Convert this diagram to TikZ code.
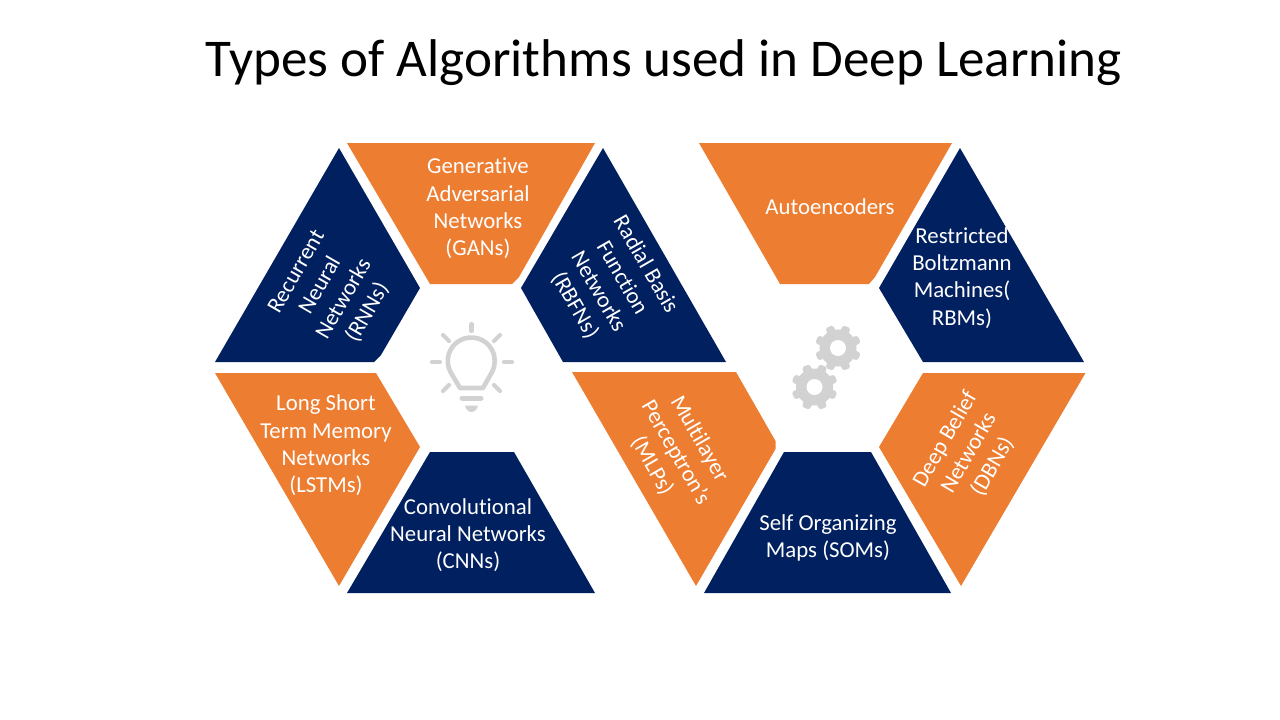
\documentclass[tikz,border=0pt]{standalone}
\usepackage{fontspec}
\setmainfont{Carlito}[RawFeature={-liga;-clig}]
\definecolor{navyc}{HTML}{002060}
\definecolor{orangec}{HTML}{ED7D31}
\definecolor{iconc}{HTML}{D2D2D2}
\tikzset{
  navyshape/.style={fill=navyc,draw=none},
  orangeshape/.style={fill=orangec,draw=none},
  lab/.style={text=white,align=center,inner sep=0pt,font=\fontsize{22.8}{27.3}\selectfont},
  ray/.style={draw=iconc,line width=4.2pt,line cap=round},
  titletext/.style={text=black,inner sep=0pt,font=\fontsize{53.1}{60}\selectfont}
}
\newcommand{\gearicon}[2]{%
  \fill[iconc] (#1,#2) circle[radius=18.5pt];
  \foreach \a in {0,45,...,315}{
    \fill[iconc,rounded corners=1.5pt,shift={(#1,#2)},rotate=\a+22.5]
      (-5,14) -- (-3.8,23) -- (3.8,23) -- (5,14) -- cycle;
  }
  \fill[white] (#1,#2) circle[radius=8pt];
}
\begin{document}
\begin{tikzpicture}[x=1pt,y=-1pt]
\useasboundingbox (0,0) rectangle (1280,720);
\fill[white] (0,0) rectangle (1280,720);
\node[titletext] (title) at (664,62.5) {Types of Algorithms used in Deep Learning};
% left hexagon
\fill[orangeshape] (347,143) -- (595,143) -- (519,277) -- (512,284) -- (430,284) -- cycle;
\fill[navyshape] (339,148) -- (420,288) -- (381,355) -- (374,362) -- (215,362) -- cycle;
\fill[navyshape] (603,148) -- (726,362) -- (563,362) -- (521,288) -- cycle;
\fill[orangeshape] (215,373) -- (376,373) -- (420,447) -- (339,586) -- cycle;
\fill[navyshape] (430,452) -- (514,452) -- (595,593) -- (347,593) -- cycle;
\fill[orangeshape] (572,372) -- (736,372) -- (775.5,441) -- (775.5,449) -- (696,586) -- cycle;
% right hexagon
\fill[orangeshape] (699,143) -- (952,143) -- (875,277) -- (869,284) -- (780,284) -- cycle;
\fill[navyshape] (960,148) -- (1084,362) -- (923,362) -- (879,288) -- cycle;
\fill[orangeshape] (923,373) -- (1085.5,373) -- (961,586) -- (879,447) -- cycle;
\fill[navyshape] (784,452) -- (871,452) -- (951,593) -- (704,593) -- cycle;
% labels
\node[lab] (gan) at (478,208.5) {Generative\\Adversarial\\Networks\\(GANs)};
\node[lab,rotate=60] (rnn) at (332.5,292.5) {Recurrent\\Neural\\Networks\\(RNNs)};
\node[lab,rotate=-60] (rbfn) at (610,285) {Radial Basis\\Function\\Networks\\(RBFNs)};
\node[lab] (lstm) at (326,445.5) {Long Short\\Term Memory\\Networks\\(LSTMs)};
\node[lab] (cnn) at (468,535) {Convolutional\\Neural Networks\\(CNNs)};
\node[lab,rotate=-60] (mlp) at (675.5,452.5) {Multilayer\\Perceptron's\\(MLPs)};
\node[lab] (auto) at (830,206.5) {Autoencoders};
\node[lab] (rbm) at (962,278) {Restricted\\Boltzmann\\Machines(\\RBMs)};
\node[lab] (som) at (828,538) {Self Organizing\\Maps (SOMs)};
\node[lab,rotate=60] (dbn) at (969,453) {Deep Belief\\Networks\\(DBNs)};
% bulb icon
\draw[draw=iconc,line width=4.6pt,line join=round]
  (460,388) -- (450.5,372) arc[start angle=208,end angle=-28,radius=23.5pt] -- (483,388) -- cycle;
\draw[ray,line width=5pt] (462,398) -- (481,398);
\fill[iconc] (465,405.5) -- (478,405.5) .. controls (477,410) and (474,412) .. (471.5,412) .. controls (469,412) and (466,410) .. (465,405.5) -- cycle;
\draw[ray] (471.5,324) -- (471.5,331);
\draw[ray] (443,335) -- (449,341);
\draw[ray] (500,335) -- (494,341);
\draw[ray] (432,362) -- (440,362);
\draw[ray] (504,362) -- (512,362);
\draw[ray] (443,391) -- (449,385);
\draw[ray] (500,391) -- (494,385);
% gears
\gearicon{838}{348}
\gearicon{814.5}{387}
\end{tikzpicture}
\end{document}
